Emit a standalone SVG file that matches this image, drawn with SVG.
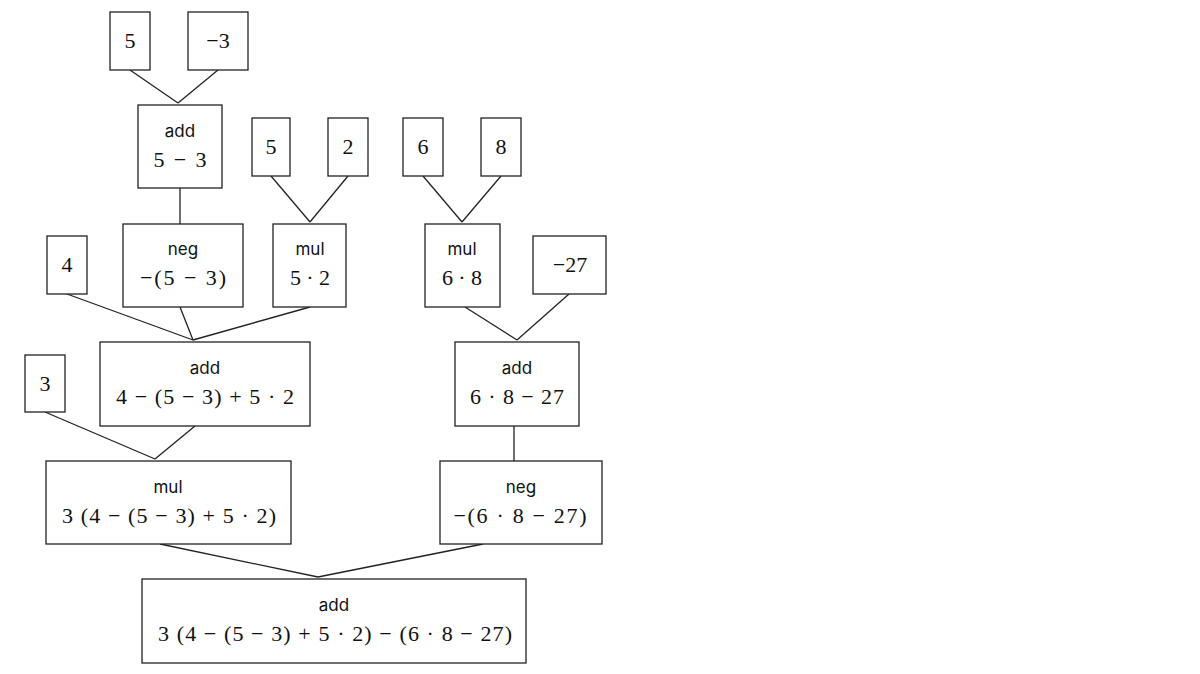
<svg xmlns="http://www.w3.org/2000/svg" width="1200" height="674" viewBox="0 0 1200 674">
<style>
.b{fill:#fff;stroke:#222;stroke-width:1.3}
.l{font-family:Inter,"Noto Sans",sans-serif;font-size:17px;text-anchor:middle;fill:#111}
.m{font-family:"Liberation Serif",serif;font-size:22px;text-anchor:middle;fill:#111}
#c line{stroke:#222;stroke-width:1.3}
</style>
<rect width="1200" height="674" fill="#fff"/>
<g id="c">
<line x1="130" y1="70" x2="178" y2="103"/><line x1="218" y1="70" x2="178" y2="103"/>
<line x1="180" y1="188" x2="180" y2="224"/>
<line x1="271" y1="176" x2="310" y2="222"/><line x1="348" y1="176" x2="310" y2="222"/>
<line x1="423" y1="176" x2="462" y2="222"/><line x1="501" y1="176" x2="462" y2="222"/>
<line x1="67" y1="294" x2="193" y2="340"/><line x1="180" y1="307" x2="193" y2="340"/><line x1="310" y1="307" x2="193" y2="340"/>
<line x1="465" y1="307" x2="517" y2="340"/><line x1="569" y1="294" x2="517" y2="340"/>
<line x1="45" y1="412" x2="155" y2="459"/><line x1="195" y1="426" x2="155" y2="459"/>
<line x1="514" y1="426" x2="514" y2="461"/>
<line x1="160" y1="544" x2="318" y2="577"/><line x1="483" y1="544" x2="318" y2="577"/>
</g>
<g id="n1"><rect class="b" x="110" y="12" width="40" height="58"/><text class="m" x="130" y="48">5</text></g>
<g id="n2"><rect class="b" x="188" y="12" width="60" height="58"/><text class="m" x="218" y="48">−3</text></g>
<g id="n3"><rect class="b" x="138" y="105" width="84" height="83"/><text class="l" x="180" y="137">add</text><text class="m" x="180" y="167" textLength="53" lengthAdjust="spacing">5 − 3</text></g>
<g id="n4"><rect class="b" x="252" y="118" width="38" height="58"/><text class="m" x="271" y="154">5</text></g>
<g id="n5"><rect class="b" x="328" y="118" width="40" height="58"/><text class="m" x="348" y="154">2</text></g>
<g id="n6"><rect class="b" x="403" y="118" width="40" height="58"/><text class="m" x="423" y="154">6</text></g>
<g id="n7"><rect class="b" x="481" y="118" width="40" height="58"/><text class="m" x="501" y="154">8</text></g>
<g id="n8"><rect class="b" x="123" y="224" width="120" height="83"/><text class="l" x="183" y="255">neg</text><text class="m" x="183" y="285" textLength="86" lengthAdjust="spacing">−(5 − 3)</text></g>
<g id="n9"><rect class="b" x="273" y="224" width="73" height="83"/><text class="l" x="310" y="255">mul</text><text class="m" x="310" y="285" textLength="40" lengthAdjust="spacing">5 · 2</text></g>
<g id="n10"><rect class="b" x="425" y="224" width="75" height="83"/><text class="l" x="462" y="255">mul</text><text class="m" x="462" y="285" textLength="40" lengthAdjust="spacing">6 · 8</text></g>
<g id="n11"><rect class="b" x="533" y="236" width="73" height="58"/><text class="m" x="570" y="272">−27</text></g>
<g id="n12"><rect class="b" x="47" y="236" width="40" height="58"/><text class="m" x="67" y="272">4</text></g>
<g id="n13"><rect class="b" x="100" y="342" width="210" height="84"/><text class="l" x="205" y="374">add</text><text class="m" x="205" y="404" textLength="178" lengthAdjust="spacing">4 − (5 − 3) + 5 · 2</text></g>
<g id="n14"><rect class="b" x="25" y="355" width="40" height="57"/><text class="m" x="45" y="391">3</text></g>
<g id="n15"><rect class="b" x="455" y="342" width="124" height="84"/><text class="l" x="517" y="374">add</text><text class="m" x="517" y="404" textLength="94" lengthAdjust="spacing">6 · 8 − 27</text></g>
<g id="n16"><rect class="b" x="46" y="461" width="245" height="83"/><text class="l" x="168" y="493">mul</text><text class="m" x="169" y="523" textLength="214" lengthAdjust="spacing">3 (4 − (5 − 3) + 5 · 2)</text></g>
<g id="n17"><rect class="b" x="440" y="461" width="162" height="83"/><text class="l" x="521" y="493">neg</text><text class="m" x="520" y="523" textLength="133" lengthAdjust="spacing">−(6 · 8 − 27)</text></g>
<g id="n18"><rect class="b" x="142" y="579" width="384" height="84"/><text class="l" x="334" y="611">add</text><text class="m" x="335" y="641" textLength="354" lengthAdjust="spacing">3 (4 − (5 − 3) + 5 · 2) − (6 · 8 − 27)</text></g>
</svg>
